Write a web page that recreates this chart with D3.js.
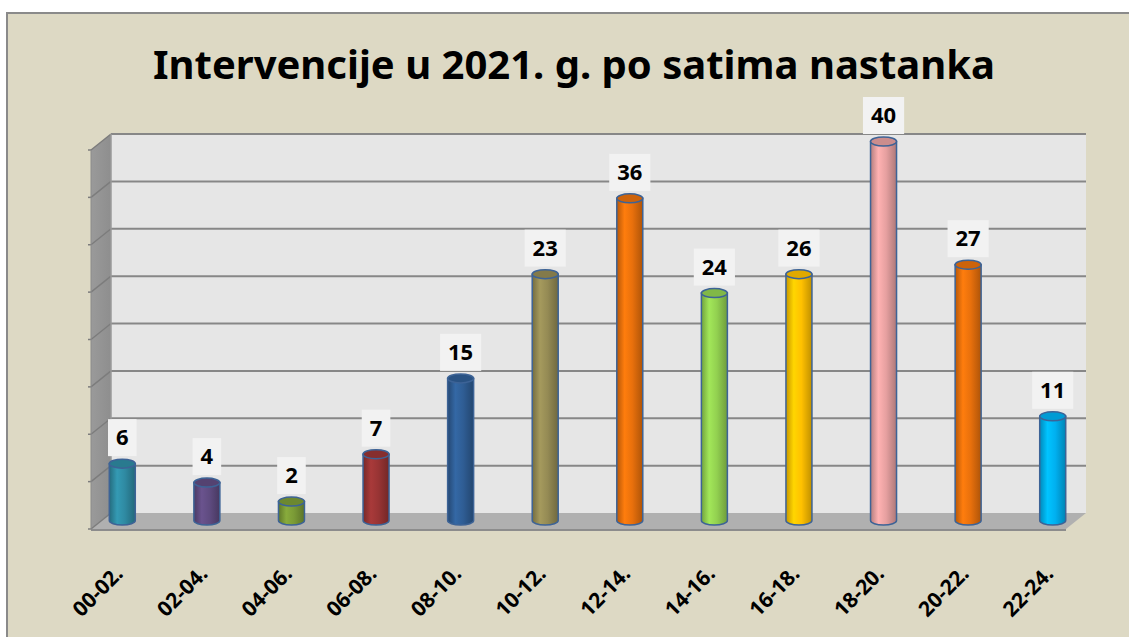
<!DOCTYPE html>
<html>
<head>
<meta charset="utf-8">
<script src="https://cdn.jsdelivr.net/npm/d3@7"></script>
<style>
  html, body { margin: 0; padding: 0; background: #ffffff; }
  svg { display: block; }
</style>
</head>
<body>
<div id="chart"></div>
<script>
// podaci s grafikona
var kategorije = ["00-02.", "02-04.", "04-06.", "06-08.", "08-10.", "10-12.",
                  "12-14.", "14-16.", "16-18.", "18-20.", "20-22.", "22-24."];
// visine stupaca kako su nacrtani
var visine = [6, 4, 2, 7, 15, 26, 34, 24, 26, 40, 27, 11];
// oznake iznad stupaca
var oznake = ["6", "4", "2", "7", "15", "23", "36", "24", "26", "40", "27", "11"];
var boje = ["#2f8aa2", "#5f4b80", "#7a9a36", "#983434", "#2f5d94", "#948a54",
            "#e8700c", "#92d050", "#ffc000", "#e6a0a0", "#e8700c", "#00b0f0"];
var podjela = [0, 5, 10, 15, 20, 25, 30, 35, 40];

var W = 1129, H = 637;
var dubX = -20, dubY = 16; // pomak dubine 3D prikaza
var zidL = 111, zidD = 1086;

var svg = d3.select("#chart").append("svg")
  .attr("width", W).attr("height", H);

var defs = svg.append("defs");

// pozadina s okvirom
svg.append("rect").attr("x", 7).attr("y", 13).attr("width", W - 7).attr("height", H - 13)
  .attr("fill", "#ddd9c4");
svg.append("path").attr("d", "M7," + H + "V13H" + W)
  .attr("fill", "none").attr("stroke", "#8a8a8a").attr("stroke-width", 2);

var y = d3.scaleLinear().domain([0, 40]).range([513, 134]);
var x = d3.scaleBand().domain(kategorije).range([80, 1095]);

// lijevi zid
var lg = defs.append("linearGradient").attr("id", "zid").attr("x1", 0).attr("x2", 1);
lg.append("stop").attr("offset", "0%").attr("stop-color", "#9a9a9a");
lg.append("stop").attr("offset", "100%").attr("stop-color", "#8e8e8e");
svg.append("path")
  .attr("d", "M" + zidL + "," + y(40) + "L" + (zidL + dubX) + "," + (y(40) + dubY) +
    "L" + (zidL + dubX) + "," + (y(0) + dubY) + "L" + zidL + "," + y(0) + "Z")
  .attr("fill", "url(#zid)");

// stražnji zid
svg.append("rect").attr("x", zidL).attr("y", y(40)).attr("width", zidD - zidL)
  .attr("height", y(0) - y(40)).attr("fill", "#e6e6e6");

// pod
svg.append("path")
  .attr("d", "M" + zidL + "," + y(0) + "L" + zidD + "," + y(0) + "L" + (zidD + dubX) + "," + (y(0) + dubY) +
    "L" + (zidL + dubX) + "," + (y(0) + dubY) + "Z")
  .attr("fill", "#b0b0b0");
svg.append("line").attr("x1", zidL + dubX).attr("x2", zidD + dubX)
  .attr("y1", y(0) + dubY + 1).attr("y2", y(0) + dubY + 1)
  .attr("stroke", "#8c8c8c").attr("stroke-width", 2);

// mreža
var mreza = svg.append("g");
mreza.selectAll(".h").data(podjela.slice(1)).join("line")
  .attr("x1", zidL).attr("x2", zidD)
  .attr("y1", function (d) { return y(d); }).attr("y2", function (d) { return y(d); })
  .attr("stroke", "#878787").attr("stroke-width", 2);
mreza.selectAll(".z").data(podjela).join("line")
  .attr("x1", zidL).attr("x2", zidL + dubX)
  .attr("y1", function (d) { return y(d); }).attr("y2", function (d) { return y(d) + dubY; })
  .attr("stroke", "#7c7c7c").attr("stroke-width", 1.5);
mreza.selectAll(".t").data(podjela).join("line")
  .attr("x1", zidL + dubX).attr("x2", zidL + dubX - 3)
  .attr("y1", function (d) { return y(d) + dubY; }).attr("y2", function (d) { return y(d) + dubY; })
  .attr("stroke", "#7c7c7c").attr("stroke-width", 1.5);
svg.append("line").attr("x1", zidL).attr("x2", zidL).attr("y1", y(40)).attr("y2", y(0))
  .attr("stroke", "#9a9a9a").attr("stroke-width", 1.5);
svg.append("line").attr("x1", zidL + dubX).attr("x2", zidL + dubX).attr("y1", y(40) + dubY).attr("y2", y(0) + dubY)
  .attr("stroke", "#8a8a8a").attr("stroke-width", 1);

// gradijenti za valjke
boje.forEach(function (b, i) {
  var c = d3.color(b);
  var g = defs.append("linearGradient").attr("id", "valjak" + i).attr("x1", 0).attr("x2", 1);
  g.append("stop").attr("offset", "0%").attr("stop-color", c.darker(0.7));
  g.append("stop").attr("offset", "30%").attr("stop-color", c.brighter(0.3));
  g.append("stop").attr("offset", "60%").attr("stop-color", c);
  g.append("stop").attr("offset", "100%").attr("stop-color", c.darker(0.8));
});

var r = 13, ry = 4.5, pomY = 7.5;
var stupci = svg.append("g").selectAll("g").data(kategorije).join("g");
stupci.each(function (d, i) {
  var g = d3.select(this);
  var cx = x(d) + x.bandwidth() / 2;
  var yb = y(0) + pomY, yt = y(visine[i]) + pomY;
  g.append("path")
    .attr("d", "M" + (cx - r) + "," + yt + "V" + yb +
      "A" + r + "," + ry + " 0 0 0 " + (cx + r) + "," + yb + "V" + yt + "Z")
    .attr("fill", "url(#valjak" + i + ")")
    .attr("stroke", "#3d6396").attr("stroke-width", 1.5);
  g.append("ellipse").attr("cx", cx).attr("cy", yt).attr("rx", r).attr("ry", ry)
    .attr("fill", d3.color(boje[i]).darker(0.35))
    .attr("stroke", "#3d6396").attr("stroke-width", 1.5);

  // oznaka vrijednosti
  var t = g.append("text").attr("x", cx).attr("text-anchor", "middle")
    .attr("font-family", "'Noto Sans', sans-serif").attr("font-weight", "bold")
    .attr("font-size", 22).attr("fill", "#000").text(oznake[i]);
  var tw = t.node().getComputedTextLength();
  var boxB = yt - ry - 3, boxH = 37, boxW = tw + 16;
  g.insert("rect", "text").attr("x", cx - boxW / 2).attr("y", boxB - boxH)
    .attr("width", boxW).attr("height", boxH).attr("fill", "#f2f2f2");
  t.attr("y", boxB - 11);

  // oznaka kategorije
  g.append("text")
    .attr("transform", "translate(" + (cx + 2) + ",575) rotate(-45)")
    .attr("text-anchor", "end")
    .attr("font-family", "'Noto Sans', sans-serif").attr("font-weight", "bold")
    .attr("font-size", 21).attr("fill", "#000").text(d);
});

// naslov
var naslov = svg.append("text").attr("x", 574).attr("y", 79).attr("text-anchor", "middle")
  .attr("font-family", "'Noto Sans', sans-serif").attr("font-weight", "bold")
  .attr("font-size", 40).attr("fill", "#000")
  .text("Intervencije u 2021. g. po satima nastanka");
naslov.attr("textLength", 842).attr("lengthAdjust", "spacingAndGlyphs");
</script>
</body>
</html>
